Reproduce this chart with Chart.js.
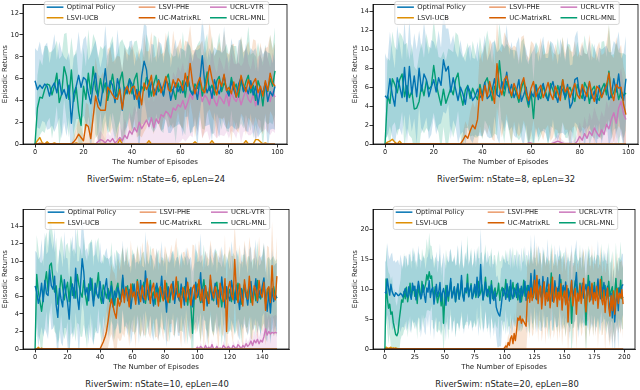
<!DOCTYPE html>
<html>
<head>
<meta charset="utf-8">
<script src="https://cdn.jsdelivr.net/npm/chart.js@4.4.0/dist/chart.umd.min.js"></script>
<style>
  body { margin: 0; width: 640px; height: 390px; background: #fff; position: relative; overflow: hidden; font-family: 'DejaVu Sans', sans-serif; }
  canvas { position: absolute; }
  .cap { position: absolute; font-size: 8.4px; line-height: 10px; color: #222; white-space: nowrap; transform: translateX(-50%); }
</style>
</head>
<body>
<div class="cap" style="left:156px;top:174px">RiverSwim: nState=6, epLen=24</div>
<div class="cap" style="left:506px;top:174px">RiverSwim: nState=8, epLen=32</div>
<div class="cap" style="left:157px;top:379px">RiverSwim: nState=10, epLen=40</div>
<div class="cap" style="left:507px;top:379px">RiverSwim: nState=20, epLen=80</div>
<script>
// series names / colours (legend order)
const names = ['Optimal Policy', 'LSVI-UCB', 'LSVI-PHE', 'UC-MatrixRL', 'UCRL-VTR', 'UCRL-MNL'];
const colors = ['#0173b2', '#de8f05', '#eb9a6a', '#d55e00', '#cc78bc', '#029e73'];
const bands = ['rgba(1,115,178,0.2)', 'rgba(222,143,5,0.2)', 'rgba(235,154,106,0.2)', 'rgba(222,120,40,0.2)', 'rgba(204,120,188,0.2)', 'rgba(2,158,115,0.2)'];

// tick labels
const xTicksA = [0, 20, 40, 60, 80, 100];
const xTicksC = [0, 20, 40, 60, 80, 100, 120, 140];
const xTicksD = [0, 25, 50, 75, 100, 125, 150, 175, 200];
const yTicksA = [0, 2, 4, 6, 8, 10, 12];
const yTicksB = [0, 2, 4, 6, 8, 10, 12, 14];
const yTicksD = [0, 5, 10, 15, 20];

// ---------- nState=6 (100 episodes) ----------
const p1Opt = [
5.8,5.0,5.4,5.1,5.5,5.3,4.4,5.2,5.6,4.7,
5.9,4.5,5.0,4.2,5.4,1.9,4.6,5.3,6.3,5.2,
6.1,5.9,4.7,3.7,5.4,6.5,4.2,3.5,5.1,6.9,
4.6,5.8,5.4,3.8,6.0,5.1,3.1,5.2,4.6,5.9,
5.5,4.1,5.0,3.3,6.2,7.6,6.8,4.3,5.7,5.1,
4.5,5.9,5.2,4.4,5.8,5.5,4.0,5.0,5.6,4.8,
5.3,4.7,5.5,6.0,4.9,4.5,5.2,4.1,5.8,8.1,
5.6,4.7,5.3,4.2,5.9,5.1,4.6,5.4,6.3,4.9,
4.4,5.7,5.0,4.3,5.5,6.1,4.8,5.2,4.6,5.8,
4.5,5.3,3.6,5.0,4.7,5.6,3.9,4.8,4.4,5.3];
const p1Ucb = [
0,0.3,0.6,0.1,0,0.2,0,0,0.1,0,
0,0,0,0,0,0,0,0.1,0,0,
0,0,0,0,0,0,0,0,0,0,
0,0,0,0,0,0.4,0,0,0,0,
0,0,0,0,0,0,0,0.3,0,0,
0,0,0,0,0,0,0,0,0,0,
0,0,0,0,0,0,0.2,0,0,0,
0,0,0,0.3,0,0,0,0,0,0,
0,0,0,0,0,0,0,0.3,0,0,
0,0.4,0.4,0.2,0,0.1,0,0,0,0];
const p1Phe = [
0,0,0.1,0,0,0,0,0,0,0,
0,0,0,0,0,0,0,0,0,0,
0,0,0,0,0,0,0,0,0,0,
0,0,0,0,0,0,0,0,0,0,
0,0,0,0,0,0,0,0,0,0,
0,0,0,0,0,0,0,0,0,0,
0,0,0,0,0,0,0,0,0,0,
0,0,0,0,0,0,0,0,0,0,
0,0,0,0,0,0,0,0,0,0,
0,0,0,0,0,0,0,0,0,0];
const p1Mrl = [
0,0,0,0,0,0,0,0,0,0,
0,0,0,0,0,0,0.2,0.5,0.9,0.6,
0.3,1.8,1.6,0.5,2.5,4.4,3.4,3.1,3.1,3.1,
5.2,4.9,4.5,4.2,4.1,5.0,3.2,4.8,5.3,4.6,
5.2,5.3,4.1,4.8,3.6,5.6,5.0,5.5,6.3,4.4,
5.1,5.8,4.7,5.4,6.2,5.0,4.8,5.9,5.2,6.0,
5.7,4.9,6.5,5.3,7.4,5.6,4.6,5.5,6.1,5.0,
4.7,5.8,7.2,6.0,5.1,4.5,5.9,5.3,6.4,4.9,
5.2,4.6,5.7,4.3,5.0,6.3,5.4,4.8,5.9,5.1,
5.6,6.0,4.7,5.3,4.4,5.8,4.9,6.5,5.6,5.3];
const p1Vtr = [
0,0,0,0,0,0,0,0,0,0,
0,0,0,0,0,0,0,0,0,0,
0,0,0,0,0,0,0.2,0.4,0.3,0.1,
0.4,0.2,0.5,0.1,0.3,0.6,0.3,0.8,0.5,1.2,
0.9,1.5,1.1,2.0,1.4,1.8,2.2,1.6,2.4,1.5,
2.3,1.9,2.7,2.5,3.0,2.8,2.4,3.3,3.1,3.6,
3.4,4.0,3.2,3.8,4.6,4.1,5.5,4.3,4.8,3.9,
4.5,4.2,3.6,4.9,4.0,3.5,4.4,4.1,3.7,4.6,
3.5,4.8,4.2,3.9,4.5,3.6,4.3,5.0,4.1,3.8,
4.6,3.5,4.4,4.9,4.1,5.2,4.5,3.9,4.8,4.3];
const p1Mnl = [
0,3.3,4.3,4.2,5.0,5.5,5.4,4.5,5.3,6.5,
3.8,4.6,7.1,6.2,4.1,6.8,3.9,5.2,3.0,1.7,
5.3,4.1,6.5,4.6,7.1,5.0,4.4,6.0,4.7,5.6,
4.0,5.2,6.4,4.8,4.3,5.8,6.6,4.5,5.1,6.0,
4.6,5.9,6.5,4.2,5.3,4.9,6.1,5.7,4.4,5.5,
6.3,4.8,5.2,4.5,5.9,6.4,4.9,5.0,4.1,5.6,
4.7,5.8,4.3,6.2,5.0,4.6,5.5,5.1,6.0,4.4,
5.3,6.6,4.9,5.4,4.5,5.8,6.2,4.8,5.6,5.2,
4.6,6.1,5.0,5.5,4.3,5.9,4.9,5.7,6.3,4.7,
5.4,4.0,5.8,5.1,3.5,5.6,4.8,6.0,5.3,6.7];
const p1OptSd = [
3,3.5,4,3,3.5,4,3,3.5,4.5,3,
3.5,4,3,3.5,3,4,3.5,3,4,3,
3.5,4,3,4.5,3.5,3,4,3.5,3,4,
3.5,3,4,3.5,4.5,3,3.5,4,3,3.5,
4,3,3.5,4.5,3,3.5,4,3,3.5,4,
3,3.5,4,3,3.5,4.5,3,3.5,4,3,
3.5,4,3,3.5,4,3,3.5,4.5,3,3.5,
4,3,3.5,4,3,3.5,4,3,4.5,3.5,
3,4,3.5,3,4,3.5,3,4,3.5,3,
4,3.5,3,4,3.5,3,4.5,3.5,3,4];
const p1MrlSd = [
0,0,0,0,0,0,0,0,0,0,
0,0,0,0,0,0,0.5,1,1.5,1,
0.5,2,2,1,3,3.5,3,3,3.5,3,
3.5,4,3,3.5,4,3,3.5,4,3,3.5,
4,3,3.5,4,3,4.5,3.5,3,4,3.5,
3,4,3.5,3,4,3.5,3,4.5,3.5,3,
4,3.5,3,4,3.5,3,4,3.5,3,4.5,
3.5,3,4,3.5,3,4,3.5,3,4,3.5,
3,4.5,3.5,3,4,3.5,3,4,3.5,3,
4,3.5,3,4,3.5,3,4,3.5,3,4];
const p1VtrSd = [
0,0,0,0,0,0,0,0,0,0,
0,0,0,0,0,0,0,0,0,0,
0,0,0,0,0,0,0.5,0.8,0.6,0.3,
0.8,0.5,1,0.4,0.7,1.2,0.8,1.5,1.2,1.8,
1.5,2,1.8,2.5,2,2.3,2.8,2.2,3,2.3,
2.8,2.5,3,2.8,3.2,3,2.7,3.3,3,3.5,
3.2,3.5,3,3.3,3.8,3.5,3.2,3.6,3,3.4,
3.5,3,3.3,3.8,3.2,3,3.6,3.3,3,3.5,
3,3.6,3.2,3.4,3,3.5,3.2,3.8,3.3,3,
3.5,3.2,3.6,3.3,3,3.8,3.4,3.1,3.6,3.3];
const p1MnlSd = [
0,3,3.5,3,4,3.5,3,4,3.5,3,
4,3.5,3,4,3.5,3,4,3.5,3,4,
3.5,3,4,3.5,3,4.5,3.5,3,4,3.5,
3,4,3.5,3,4,3.5,3,4.5,3.5,3,
4,3.5,3,4,3.5,3,4,3.5,3,4.5,
3.5,3,4,3.5,3,4,3.5,3,4,3.5,
3,4.5,3.5,3,4,3.5,3,4,3.5,3,
4,3.5,3,4.5,3.5,3,4,3.5,3,4,
3.5,3,4,3.5,3,4,3.5,3,4.5,3.5,
3,4,3.5,3,4,3.5,3,4,3.5,4];

// ---------- nState=8 (100 episodes) ----------
const p2Opt = [
5.1,4.8,6.9,5.2,4.0,7.0,6.1,4.9,8.1,4.5,
8.2,5.3,7.2,5.0,8.0,5.6,7.4,6.8,5.0,6.0,
6.8,5.5,7.0,6.2,8.9,7.7,8.2,5.5,7.0,5.8,
4.6,6.0,5.3,4.2,6.1,5.5,4.6,5.0,5.8,4.9,
5.3,6.5,4.8,5.1,5.7,6.9,5.2,5.0,6.6,5.8,
7.6,5.4,6.3,4.9,5.6,6.8,4.5,5.2,6.0,4.2,
5.5,5.0,6.2,4.7,5.8,6.4,5.1,4.6,5.9,6.6,
5.3,4.4,6.1,5.7,4.9,6.3,3.8,4.4,6.8,7.0,
5.1,6.0,4.6,5.5,6.5,4.8,5.6,4.3,6.2,5.0,
5.7,6.4,4.7,5.2,6.9,5.5,7.4,5.0,4.6,6.9];
const p2Ucb = [
0,0.2,0.3,0.5,0.2,0,0.3,0,0,0,
0,0,0,0,0,0,0,0,0,0,
0,0,0,0,0,0,0,0,0,0,
0,0,0,0,0,0,0,0,0,0,
0,0,0,0,0,0,0,0,0,0,
0,0,0,0,0,0,0,0,0,0,
0,0,0,0,0,0,0,0,0,0,
0,0,0,0,0,0,0,0,0,0,
0,0,0,0,0,0,0,0,0,0,
0,0,0,0,0,0,0,0,0,0];
const p2Phe = [
0,0,0,0,0,0,0,0,0,0,
0,0,0,0,0,0,0,0,0,0,
0,0,0,0,0,0,0,0,0,0,
0,0,0,0,0,0,0,0,0,0,
0,0,0,0,0,0,0,0,0,0,
0,0,0,0,0,0,0,0,0,0,
0,0,0,0,0,0,0,0,0,0,
0,0,0,0,0,0,0,0,0,0,
0,0,0,0,0,0,0,0,0,0,
0,0,0,0,0,0,0,0,0,0];
const p2Mrl = [
0,0,0,0,0,0,0,0,0,0,
0,0,0,0,0,0,0,0,0,0,
0,0,0,0,0,0,0,0,0,0,
0,0,0.4,0.9,0.6,1.4,2.0,1.6,2.6,5.9,
4.6,6.2,5.0,6.6,5.5,4.3,8.5,6.0,5.2,6.8,
7.2,6.0,5.1,6.4,5.7,4.8,6.3,7.0,5.5,4.6,
5.9,6.6,5.0,5.8,6.2,4.9,5.6,6.5,5.3,4.7,
6.1,5.4,4.6,6.8,5.5,6.0,4.9,5.7,6.4,5.2,
4.8,6.3,5.6,5.0,6.6,5.3,4.5,6.1,5.8,4.9,
5.6,6.2,7.5,5.4,4.6,6.3,5.9,6.0,4.2,3.1];
const p2Vtr = [
0,0,0,0,0,0,0,0,0,0,
0,0,0,0,0,0,0,0,0,0,
0,0,0,0,0,0,0,0,0,0,
0,0,0,0,0,0,0,0,0,0,
0,0,0,0,0,0,0,0,0,0,
0,0,0,0,0,0,0,0,0,0.1,
0.1,0,0,0,0,0,0,0,0,0.1,
0.2,0.3,0.2,0.1,0,0,0,0,0,0.3,
0.8,0.4,1.1,0.6,1.3,0.9,1.7,1.2,0.8,1.5,
1.0,2.1,1.6,2.6,3.3,2.2,3.8,4.5,3.2,2.6];
const p2Mnl = [
0,5.1,4.3,6.9,6.3,5.4,6.8,7.4,5.0,6.2,
4.9,5.6,3.7,3.8,4.5,6.2,5.1,6.7,5.8,6.1,
8.3,6.4,5.2,4.1,5.8,4.3,5.1,5.9,5.2,6.8,
7.5,5.3,4.1,5.7,6.2,4.8,5.9,5.2,4.7,6.3,
5.0,6.5,7.0,5.8,4.6,6.1,5.4,8.8,6.2,5.1,
6.6,5.7,4.9,6.0,5.3,4.4,5.8,6.7,5.0,3.9,
5.6,2.7,6.3,5.2,4.8,6.1,5.5,4.6,6.4,5.7,
4.9,6.2,5.1,6.8,4.7,5.6,6.0,5.2,4.5,6.3,
5.4,4.8,6.5,5.9,4.3,5.7,6.1,5.0,4.6,5.8,
6.4,5.2,7.7,4.9,5.5,6.2,4.7,5.6,5.1,5.4];
const p2OptSd = [
4.5,4,5,4.5,4,5.5,4.5,4,5,4.5,
5,4,4.5,5,4,4.5,5.5,4,4.5,5,
4,4.5,5,4,5.5,4.5,4,5,4.5,4,
4.5,5,4,4.5,4,5,4.5,4,5,4,
4.5,5,4,4.5,5,4,4.5,5,4,4.5,
5,4,4.5,4,5,4.5,4,5.5,4,4.5,
4,5,4.5,4,4.5,5,4,4.5,5,4,
4.5,4,5,4.5,4,5,4.5,4,4.5,5,
4,4.5,5,4,4.5,4,5,4.5,4,5,
4.5,4,5,4.5,4,5,4.5,4,5,4.5];
const p2MrlSd = [
0,0,0,0,0,0,0,0,0,0,
0,0,0,0,0,0,0,0,0,0,
0,0,0,0,0,0,0,0,0,0,
0,0,0.8,1.5,1.2,2,2.5,2.2,3,4,
4,4.5,4,4.5,5,4,4.5,4,4.5,5,
4,4.5,5,4,4.5,4,5,4.5,4,4.5,
5,4,4.5,4,5,4.5,4,4.5,5,4,
4.5,4,5,4.5,4,4.5,5,4,4.5,4,
5,4.5,4,4.5,5,4,4.5,4,5,4.5,
4,4.5,5,4,4.5,5,4,4.5,4,4];
const p2VtrSd = [
0,0,0,0,0,0,0,0,0,0,
0,0,0,0,0,0,0,0,0,0,
0,0,0,0,0,0,0,0,0,0,
0,0,0,0,0,0,0,0,0,0,
0,0,0,0,0,0,0,0,0,0,
0,0,0,0,0,0,0,0,0,0,
0,0,0,0,0,0,0,0,0,0.3,
0.5,0.7,0.5,0.3,0.2,0.2,0.2,0.3,0.5,0.8,
1.5,1,1.8,1.2,2,1.6,2.2,1.8,1.5,2,
1.8,2.5,2.2,2.8,3,2.6,3.2,3.5,3,2.8];
const p2MnlSd = [
0,4,4.5,5,4,4.5,5,4,5.5,4.5,
4,5,4.5,4,5,4.5,4,5,4.5,4,
5,4.5,4,5,4,4.5,5,4,4.5,5,
4,4.5,5,4,4.5,4,5,4.5,4,5,
4.5,4,5,4.5,4,5,4.5,4,4.5,5,
4,4.5,5,4,4.5,4,5,4.5,4,4.5,
5,4,4.5,5,4,4.5,4,5,4.5,4,
4.5,5,4,4.5,4,5,4.5,4,5,4.5,
4,4.5,5,4,4.5,5,4,4.5,4,5,
4.5,4,5,4.5,4,4.5,5,4,4.5,4];

// ---------- nState=10 (150 episodes) ----------
const p3Opt = [
7.2,6.5,5.2,6.0,7.5,5.4,7.8,6.3,6.1,9.0,
7.2,6.8,8.3,5.0,3.6,6.9,5.7,4.8,7.9,6.4,
5.3,3.4,6.6,7.4,5.8,9.2,6.0,4.5,7.3,10.3,
8.8,6.2,7.0,5.5,8.1,6.7,4.9,7.5,6.3,5.8,
7.7,6.1,5.2,6.9,8.0,5.7,6.4,7.2,4.8,6.6,
5.9,7.0,6.3,5.4,8.4,6.0,7.1,5.5,6.8,4.6,
6.2,7.4,5.8,6.5,5.1,7.8,6.0,5.3,8.9,6.7,
5.6,7.3,6.1,4.9,6.8,7.5,5.4,6.2,8.3,5.8,
6.6,4.2,7.1,5.9,6.4,7.7,5.2,6.9,6.0,5.5,
7.4,6.3,5.0,8.1,6.6,5.7,7.0,4.8,6.2,7.6,
5.9,6.5,8.7,5.3,6.8,7.2,4.9,6.1,7.9,5.6,
6.4,7.5,5.1,6.7,5.8,8.2,6.3,4.7,7.1,6.0,
5.5,7.8,6.6,5.2,7.3,6.1,4.5,6.9,5.7,7.4,
6.2,5.0,6.8,7.7,5.6,6.4,8.0,5.3,6.7,5.9,
7.2,8.1,5.7,4.3,6.5,4.1,6.9,5.4,6.2,5.8];
const p3Ucb = [
0,0,0.2,0,0.1,0,0,0,0,0,
0,0,0,0,0,0,0,0,0,0,
0,0,0,0,0,0,0,0,0,0,
0,0,0,0,0,0,0,0,0,0,
0,0,0,0,0,0,0,0,0,0,
0,0,0,0,0,0,0,0,0,0,
0,0,0,0,0,0,0,0,0,0,
0,0,0,0,0,0,0,0,0,0,
0,0,0,0,0,0,0,0,0,0,
0,0,0,0,0,0,0,0,0,0,
0,0,0,0,0,0,0,0,0,0,
0,0,0,0,0,0,0,0,0,0,
0,0,0,0,0,0,0,0,0,0,
0,0,0,0,0,0,0,0,0,0,
0,0,0,0,0,0,0,0,0,0];
const p3Phe = [
0,0,0,0,0,0,0,0,0,0,
0,0,0,0,0,0,0,0,0,0,
0,0,0,0,0,0,0,0,0,0,
0,0,0,0,0,0,0,0,0,0,
0,0,0,0,0,0,0,0,0,0,
0,0,0,0,0,0,0,0,0,0,
0,0,0,0,0,0,0,0,0,0,
0,0,0,0,0,0,0,0,0,0,
0,0,0,0,0,0,0,0,0,0,
0,0,0,0,0,0,0,0,0,0,
0,0,0,0,0,0,0,0,0,0,
0,0,0,0,0,0,0,0,0,0,
0,0,0,0,0,0,0,0,0,0,
0,0,0,0,0,0,0,0,0,0,
0,0,0,0,0,0,0,0,0,0];
const p3Mrl = [
0,0,0,0,0,0,0,0,0,0,
0,0,0,0,0,0,0,0,0,0,
0,0,0,0,0,0,0,0,0,0,
0,0,0,0,0,0,0,0,0,0,
0,0.4,0.8,1.3,2.0,3.2,4.6,5.7,4.9,4.1,
3.5,5.8,4.9,5.5,6.8,5.3,7.0,6.2,4.8,7.4,
5.9,6.5,5.1,7.7,6.3,5.4,7.2,6.0,5.6,8.0,
6.7,5.2,6.9,7.5,5.8,6.4,4.9,7.1,6.2,5.5,
7.8,6.0,5.3,6.8,7.4,5.6,6.5,8.2,5.9,6.3,
4.7,7.0,6.6,5.4,7.6,6.1,5.0,6.9,7.3,5.7,
6.4,7.9,5.5,6.8,4.4,7.2,6.0,5.2,8.4,6.6,
5.8,7.1,6.3,4.8,7.5,6.2,5.4,8.0,2.0,6.9,
7.7,6.1,5.6,10.2,6.8,5.3,7.4,6.0,4.9,7.9,
6.5,5.7,8.3,6.2,5.0,7.2,6.7,5.5,7.8,6.3,
5.9,7.6,4.4,6.8,7.1,5.3,9.5,6.0,5.6,8.3];
const p3Vtr = [
0,0,0,0,0,0,0,0,0,0,
0,0,0,0,0,0,0,0,0,0,
0,0,0,0,0,0,0,0,0,0,
0,0,0,0,0,0,0,0,0,0,
0,0,0,0,0,0,0,0,0,0,
0,0,0,0,0,0,0,0,0,0,
0,0,0,0,0,0,0,0,0,0,
0,0,0,0,0,0,0,0,0,0,
0,0,0,0,0,0,0,0,0,0,
0,0,0,0,0,0,0,0,0,0,
0.2,0,0.3,0.1,0,0.4,0,0.2,0,0.5,
0,0,0.3,0,0.1,0,0.4,0.2,0,0.3,
0.1,0,0.4,0.2,0,0.5,0.3,0,0.4,0.2,
0.6,0.3,0.5,0.9,0.4,1.0,0.7,1.1,0.6,1.0,
0.8,1.4,2.3,1.6,2.0,1.7,1.9,1.8,1.9,1.8];
const p3Mnl = [
0,8.5,6.5,5.4,4.3,5.8,7.5,8.8,6.6,9.5,
9.8,8.0,6.5,7.2,5.1,6.3,8.4,7.0,5.6,6.8,
7.6,5.4,8.2,6.1,7.0,5.8,8.5,7.3,6.4,5.9,
7.8,6.2,5.0,7.4,6.7,8.0,5.5,6.3,7.1,8.7,
6.0,5.2,7.3,6.6,5.8,6.9,5.4,7.7,6.2,5.0,
6.8,7.5,5.7,6.3,8.1,5.9,6.6,7.2,5.3,6.0,
7.4,6.1,5.5,7.9,6.4,5.6,6.9,7.6,5.2,6.7,
6.2,7.8,5.9,6.5,5.1,7.2,6.8,5.4,7.0,6.3,
5.7,7.5,6.0,5.3,6.9,7.3,5.8,6.4,7.7,5.5,
6.6,5.9,7.1,6.3,5.0,6.8,4.9,1.8,5.6,6.9,
7.4,6.1,5.3,6.7,7.9,5.8,6.5,5.2,7.2,6.0,
5.5,6.9,7.6,5.9,6.3,4.8,6.6,7.4,5.7,6.2,
6.8,5.4,7.0,6.1,5.6,7.5,6.4,5.1,6.7,7.3,
5.9,6.5,7.1,5.3,6.2,6.9,5.5,7.8,6.0,5.7,
6.6,7.4,5.2,6.3,7.0,5.6,6.4,7.1,6.0,5.8];
const p3OptSd = [
4,4.5,5,4.5,5,4,5.5,4.5,5,4.5,
5,4.5,5.5,4,5,4.5,5,4.5,5.5,4,
5,4.5,5,5.5,4.5,5,4,5.5,4.5,5,
4.5,5,4.5,5,4,5.5,4.5,5,4.5,4,
4.5,4,4.5,4,3.5,4.5,4,3.5,4,4.5,
3.5,4,4.5,3.5,4,3.5,4.5,4,3.5,4,
4.5,3.5,4,3.5,4.5,4,3.5,4,4.5,3.5,
4,3.5,4.5,4,3.5,4,4.5,3.5,4,3.5,
4.5,4,3.5,4,4.5,3.5,4,3.5,4.5,4,
3.5,4,4.5,3.5,4,4.5,3.5,4,3.5,4.5,
4,3.5,4.5,4,3.5,4,4.5,3.5,4,3.5,
4.5,4,3.5,4,4.5,3.5,4,4.5,3.5,4,
3.5,4.5,4,3.5,4,4.5,3.5,4,3.5,4.5,
4,3.5,4.5,4,3.5,4,4.5,3.5,4,4.5,
3.5,4,4.5,3.5,4,3.5,4.5,4,3.5,4];
const p3MrlSd = [
0,0,0,0,0,0,0,0,0,0,
0,0,0,0,0,0,0,0,0,0,
0,0,0,0,0,0,0,0,0,0,
0,0,0,0,0,0,0,0,0,0,
0,0.8,1.5,2,2.5,3,3.5,4,4,4.5,
4,4.5,4,4.5,5,4,4.5,4,4.5,5,
4,4.5,5,4,4.5,4,5,4.5,4,4.5,
5,4,4.5,4,4.5,5,4,4.5,4,4.5,
4,5,4.5,4,4.5,4,5,4.5,4,4.5,
4.5,4,4.5,5,4,4.5,4,5,4.5,4,
4,4.5,5,4,4.5,4,4.5,5,4,4.5,
4.5,4,4.5,5,4,4.5,4,5,4.5,4,
4,4.5,5,4,4.5,4,4.5,4,5,4.5,
4.5,4,4.5,5,4,4.5,4,4.5,5,4,
4,4.5,4,5,4.5,4,5,4.5,4,4.5];
const p3VtrSd = [
0,0,0,0,0,0,0,0,0,0,
0,0,0,0,0,0,0,0,0,0,
0,0,0,0,0,0,0,0,0,0,
0,0,0,0,0,0,0,0,0,0,
0,0,0,0,0,0,0,0,0,0,
0,0,0,0,0,0,0,0,0,0,
0,0,0,0,0,0,0,0,0,0,
0,0,0,0,0,0,0,0,0,0,
0,0,0,0,0,0,0,0,0,0,
0,0,0,0,0,0,0,0,0,0,
0.3,0,0.4,0.2,0,0.5,0,0.3,0,0.6,
0,0,0.4,0,0.2,0,0.5,0.3,0,0.4,
0.2,0,0.5,0.3,0,0.6,0.4,0,0.5,0.3,
0.7,0.4,0.6,1,0.5,1.2,0.8,1.3,0.7,1.2,
1,1.6,2.2,1.8,2,1.8,2,1.9,2,1.9];
const p3MnlSd = [
0,4.5,5,4.5,5.5,4.5,5,4.5,5,5.5,
4.5,5,4.5,5.5,4.5,5,4.5,5,4.5,5,
4.5,5.5,4.5,5,4.5,5,5.5,4.5,5,4.5,
5,4.5,5,4.5,5.5,4.5,5,4.5,5,4,
4,4.5,3.5,4,4.5,3.5,4,4.5,3.5,4,
4.5,3.5,4,4.5,3.5,4,3.5,4.5,4,3.5,
4,4.5,3.5,4,3.5,4.5,4,3.5,4,4.5,
3.5,4,4.5,3.5,4,3.5,4.5,4,3.5,4,
4,3.5,4,4.5,3.5,4,4.5,3.5,4,3.5,
4.5,4,3.5,4,4.5,3.5,4,4,3.5,4.5,
3.5,4,4.5,3.5,4,3.5,4.5,4,3.5,4,
4,4.5,3.5,4,3.5,4.5,4,3.5,4,4.5,
4.5,3.5,4,4.5,3.5,4,3.5,4.5,4,3.5,
3.5,4,3.5,4.5,4,3.5,4,4.5,3.5,4,
4,4.5,3.5,4,3.5,4.5,4,3.5,4,4.5];

// ---------- nState=20 (200 episodes) ----------
const p4Opt = [
9.5,9.3,11.7,10.2,9.0,10.8,9.6,9.1,8.8,9.4,9.2,8.9,9.0,9.3,9.1,8.7,9.5,10.1,9.0,8.6,10.4,9.2,8.3,11.0,9.8,
10.5,8.2,9.7,11.3,10.0,8.4,9.1,10.7,8.9,7.8,10.2,9.5,11.4,8.6,9.9,10.3,7.5,9.2,10.8,8.7,9.6,11.1,8.0,9.4,10.1,
9.0,7.3,10.6,8.8,9.7,11.8,8.5,9.3,10.4,7.9,9.8,10.9,8.3,9.5,12.3,9.1,8.0,10.2,9.6,11.0,8.7,9.9,10.6,8.4,9.3,
10.8,9.0,12.0,8.6,9.7,14.1,10.3,8.2,9.5,11.2,8.9,10.0,9.4,7.6,10.7,9.2,8.1,9.6,7.0,6.3,5.8,5.5,6.9,8.7,10.1,
9.6,8.3,10.9,9.2,8.0,11.5,9.0,8.4,10.2,9.7,8.6,11.0,9.3,7.8,10.5,8.9,9.8,11.3,8.1,9.4,10.6,8.7,12.6,9.1,10.0,
13.2,9.5,8.2,10.8,11.6,9.0,8.5,12.1,9.7,8.8,10.3,11.9,8.4,9.6,10.9,8.0,9.2,11.4,8.7,10.1,9.5,12.4,8.9,9.8,10.6,
8.6,11.2,9.3,10.0,8.1,9.7,11.5,8.8,9.4,10.7,12.8,9.1,8.3,10.4,9.6,11.0,8.5,9.9,10.8,8.9,9.5,11.3,8.2,10.2,9.0,
10.6,8.7,9.8,11.7,9.2,8.4,10.3,9.6,11.1,8.9,9.7,10.5,8.0,6.1,9.3,5.2,8.6,4.5,7.8,9.4,6.4,10.2,8.8,10.5,10.8];
const p4Ucb = [
0.2,0.3,0.2,0.1,0.2,0.3,0.1,0.2,0.1,0.2,0.1,0,0,0,0,0,0,0,0,0,0,0,0,0,0,
0,0,0,0,0,0,0,0,0,0,0,0,0,0,0,0,0,0,0,0,0,0,0,0,0,
0,0,0,0,0,0,0,0,0,0,0,0,0,0,0,0,0,0,0,0,0,0,0,0,0,
0,0,0,0,0,0,0,0,0,0,0,0,0,0,0,0,0,0,0,0,0,0,0,0,0,
0,0,0,0,0,0,0,0,0,0,0,0,0,0,0,0,0,0,0,0,0,0,0,0,0,
0,0,0,0,0,0,0,0,0,0,0,0,0,0,0,0,0,0,0,0,0,0,0,0,0,
0,0,0,0,0,0,0,0,0,0,0,0,0,0,0,0,0,0,0,0,0,0,0,0,0,
0,0,0,0,0,0,0,0,0,0,0,0,0,0,0,0,0,0,0,0,0,0,0,0,0];
const p4Phe = [
0,0,0,0,0,0,0,0,0,0,0,0,0,0,0,0,0,0,0,0,0,0,0,0,0,
0,0,0,0,0,0,0,0,0,0,0,0,0,0,0,0,0,0,0,0,0,0,0,0,0,
0,0,0,0,0,0,0,0,0,0,0,0,0,0,0,0,0,0,0,0,0,0,0,0,0,
0,0,0,0,0,0,0,0,0,0,0,0,0,0,0,0,0,0,0,0,0,0,0,0,0,
0,0,0,0,0,0,0,0,0,0,0,0,0,0,0,0,0,0,0,0,0,0,0,0,0,
0,0,0,0,0,0,0,0,0,0,0,0,0,0,0,0,0,0,0,0,0,0,0,0,0,
0,0,0,0,0,0,0,0,0,0,0,0,0,0,0,0,0,0,0,0,0,0,0,0,0,
0,0,0,0,0,0,0,0,0,0,0,0,0,0,0,0,0,0,0,0,0,0,0,0,0];
const p4Mrl = [
0,0,0,0,0,0,0,0,0,0,0,0,0,0,0,0,0,0,0,0,0,0,0,0,0,
0,0,0,0,0,0,0,0,0,0,0,0,0,0,0,0,0,0,0,0,0,0,0,0,0,
0,0,0,0,0,0,0,0,0,0,0,0,0,0,0,0,0,0,0,0,0,0,0,0,0,
0,0,0,0,0,0,0,0,0,0,0,0,0,0,0,0,0,0,0,0,0,0,0,0,0,
0.2,0.5,0.3,1.1,0.6,1.8,2.2,0.9,2.6,1.4,3.0,5.2,4.8,5.5,4.3,5.0,4.6,4.2,3.8,8.5,9.6,7.8,10.2,8.1,9.0,
11.5,8.4,12.3,7.6,9.8,10.5,6.7,8.9,11.2,7.3,9.4,8.0,10.8,6.9,9.1,12.0,7.8,8.6,10.3,7.1,9.5,8.2,10.9,6.5,8.8,
9.7,7.4,10.6,4.5,8.3,9.0,11.4,7.2,8.7,10.1,5.8,9.3,8.0,10.7,7.6,9.2,11.8,8.4,6.2,9.6,10.4,7.9,8.9,11.0,7.5,
9.4,8.1,10.5,6.8,9.0,11.6,8.3,7.4,9.8,6.1,8.6,10.2,7.0,5.5,8.9,6.4,9.7,5.8,8.2,10.1,7.6,9.3,8.5,9.9,7.5];
const p4Vtr = [
0,0,0,0,0,0,0,0,0,0,0,0,0,0,0,0,0,0,0,0,0,0,0,0,0,
0,0,0,0,0,0,0,0,0,0,0,0,0,0,0,0,0,0,0,0,0,0,0,0,0,
0,0,0,0,0,0,0,0,0,0,0,0,0,0,0,0,0,0,0,0,0,0,0,0,0,
0,0,0,0,0,0,0,0,0,0,0,0,0,0,0,0,0,0,0,0,0,0,0,0,0,
0,0,0,0,0,0,0,0,0,0,0,0,0,0,0,0,0,0,0,0,0,0,0,0,0,
0,0,0,0,0,0,0,0,0,0,0,0,0,0,0,0,0,0,0,0,0,0,0,0,0,
0,0,0,0,0,0,0,0,0,0,0,0,0,0,0,0,0,0,0,0,0,0,0,0,0,
0,0,0,0,0,0,0,0,0,0,0,0,0,0,0,0,0,0,0,0,0,0,0,0,0];
const p4Mnl = [
0,11.7,8.5,6.8,7.5,5.8,6.2,4.4,3.5,2.4,2.2,2.8,4.9,6.5,8.2,7.8,9.6,8.4,10.3,7.9,9.1,11.0,8.6,9.7,10.5,
8.8,9.9,7.6,10.7,9.2,8.4,11.3,9.5,10.1,10.8,12.4,11.5,12.9,11.8,12.2,9.6,8.7,10.4,9.0,7.7,8.8,9.5,7.2,9.3,4.3,
8.2,10.6,9.4,8.0,9.8,11.2,8.7,9.5,10.3,7.9,9.1,10.8,8.4,9.6,11.5,9.0,8.3,10.1,9.4,12.5,8.8,9.7,10.9,8.5,9.2,
10.4,8.6,9.9,11.3,8.9,9.5,10.7,8.2,9.8,12.0,9.3,8.7,10.5,9.1,11.4,8.4,9.6,10.2,8.8,9.4,11.0,8.1,9.7,10.3,8.9,
9.5,11.6,8.6,9.2,10.4,8.3,9.9,11.1,8.7,9.6,10.8,8.2,9.4,10.1,7.9,9.3,11.5,8.8,9.7,10.6,8.5,9.1,12.2,9.8,8.6,
10.3,9.2,11.7,8.9,9.6,10.5,8.4,9.8,11.2,8.7,9.5,10.0,8.1,9.4,12.7,9.0,8.6,10.9,9.7,8.3,10.4,9.1,11.6,8.8,9.9,
10.2,7.6,9.3,10.1,8.7,9.8,4.3,8.5,9.6,11.4,10.7,8.9,9.2,11.0,8.4,9.7,10.5,8.8,4.0,9.4,12.3,8.6,9.9,10.8,8.2,
11.1,8.7,9.6,10.3,8.9,9.4,12.1,8.5,9.8,10.6,8.3,9.2,11.3,8.8,9.7,10.4,7.5,9.0,11.8,8.6,10.2,9.3,11.5,8.4,8.7];
const p4OptSd = [
5,5.5,6,5.5,6,5,6.5,5.5,6,5,5.5,6,5,6.5,5.5,5,6,5.5,6,5,5.5,6.5,5,6,5.5,
6,5,5.5,6,5,6.5,5.5,5,6,5.5,5,6,5.5,6.5,5,5.5,6,5,5.5,6,5,6.5,5.5,5,6,
5.5,6,5,5.5,6.5,5,6,5.5,5,6,5.5,6.5,5,5.5,6,5,5.5,6,5,6.5,5.5,5,6,5.5,5,
6,5.5,5,6.5,5.5,6,5,5.5,6,5,5.5,6.5,5,6,5.5,5,6,5.5,5,6,5.5,5,6.5,5,5.5,
5,6,5.5,5,6,5.5,6.5,5,5.5,6,5,5.5,6,5,6.5,5.5,5,6,5.5,5,6,5.5,6.5,5,5.5,
6,5,5.5,6.5,5,6,5.5,5,6,5.5,5,6.5,5.5,5,6,5,5.5,6,5,6.5,5.5,5,6,5.5,5,
5.5,6,5,5.5,6.5,5,6,5.5,5,6,5.5,5,6.5,5,5.5,6,5,5.5,6,5,6.5,5.5,5,6,5.5,
5,6,5.5,6.5,5,5.5,6,5,5.5,6,5,6.5,5.5,5,6,5.5,5,6,5,5.5,6.5,5,6,5.5,5];
const p4MrlSd = [
0,0,0,0,0,0,0,0,0,0,0,0,0,0,0,0,0,0,0,0,0,0,0,0,0,
0,0,0,0,0,0,0,0,0,0,0,0,0,0,0,0,0,0,0,0,0,0,0,0,0,
0,0,0,0,0,0,0,0,0,0,0,0,0,0,0,0,0,0,0,0,0,0,0,0,0,
0,0,0,0,0,0,0,0,0,0,0,0,0,0,0,0,0,0,0,0,0,0,0,0,0,
0.3,0.8,0.5,1.5,1,2.5,3,1.5,3.5,2,4,5,5,5.5,5,5,5.5,5,4.5,6,5.5,6,5.5,6,6.5,
5.5,6,5.5,6.5,5,6,5.5,6,5,6.5,5.5,6,5,5.5,6.5,5,6,5.5,5,6,5.5,6.5,5,6,5.5,
6,5.5,6.5,5,5.5,6,5,6.5,5.5,5,6,5.5,5,6,5.5,6.5,5,5.5,6,5,5.5,6,5,6.5,5.5,
5,6,5.5,6.5,5,5.5,6,5,5.5,6.5,5,6,5.5,5,6,5.5,6.5,5,5.5,6,5,5.5,6,5,6];
const p4MnlSd = [
0,6,5.5,6,5,5.5,6,5,6.5,5.5,5,6,5.5,5,6,5.5,6.5,5,5.5,6,5,5.5,6,5,6.5,
5.5,5,6,5.5,6.5,5,5.5,6,5,5.5,6,5,6.5,5.5,5,6,5.5,5,6,5,5.5,6.5,5,6,5.5,
5,6,5.5,6.5,5,5.5,6,5,5.5,6,5,6.5,5.5,5,6,5.5,5,6,5.5,6.5,5,5.5,6,5,5.5,
6,5,5.5,6,5,6.5,5.5,5,6,5.5,5,6,5,6.5,5.5,5,6,5.5,5,6,5.5,6.5,5,5.5,6,
5.5,5,6,5.5,6.5,5,5.5,6,5,5.5,6,5,6.5,5.5,5,6,5.5,5,6,5,5.5,6.5,5,6,5.5,
5,6,5.5,5,6.5,5.5,5,6,5.5,5,6,5,6.5,5.5,5,6,5.5,5,6,5.5,5,6.5,5,5.5,6,
6,5.5,5,6,5,6.5,5.5,5,6,5.5,5,6,5.5,6.5,5,5.5,6,5,5.5,6,5,6.5,5.5,5,6,
5.5,5,6,5.5,6.5,5,5.5,6,5,5.5,6,5,6.5,5.5,5,6,5.5,5,6,5.5,5,6,6.5,5,5.5];

// drawing order: lower number is drawn on top
const zOrder = [2, 5, 4, 1, 6, 3];

const panels = [
  { left: 23, top: 4, w: 264, h: 140, padR: 3, xMin: -4.95, xMax: 103.95, yMax: 12.8, xTicks: xTicksA, yTicks: yTicksA,
    means: [p1Opt, p1Ucb, p1Phe, p1Mrl, p1Vtr, p1Mnl], sds: [p1OptSd, null, null, p1MrlSd, p1VtrSd, p1MnlSd] },
  { left: 373, top: 4, w: 265, h: 140, padR: 2, xMin: -4.95, xMax: 103.95, yMax: 14.75, xTicks: xTicksA, yTicks: yTicksB,
    means: [p2Opt, p2Ucb, p2Phe, p2Mrl, p2Vtr, p2Mnl], sds: [p2OptSd, null, null, p2MrlSd, p2VtrSd, p2MnlSd] },
  { left: 23, top: 209, w: 266, h: 140, padR: 3, xMin: -7.45, xMax: 156.45, yMax: 15.9, xTicks: xTicksC, yTicks: yTicksB,
    means: [p3Opt, p3Ucb, p3Phe, p3Mrl, p3Vtr, p3Mnl], sds: [p3OptSd, null, null, p3MrlSd, p3VtrSd, p3MnlSd] },
  { left: 373, top: 209, w: 262, h: 140, padR: 3, xMin: -9.95, xMax: 208.95, yMax: 23.3, xTicks: xTicksD, yTicks: yTicksD,
    means: [p4Opt, p4Ucb, p4Phe, p4Mrl, p4Vtr, p4Mnl], sds: [p4OptSd, null, null, p4MrlSd, null, p4MnlSd] }
];

const pts = arr => arr.map((y, x) => ({ x, y }));
const problems = [];

// frame (all four spines) + matplotlib-style legend box
const frameLegend = {
  id: 'frameLegend',
  afterDraw(chart) {
    const { ctx, chartArea: a } = chart;
    ctx.save();
    ctx.strokeStyle = '#000';
    ctx.lineWidth = 0.8;
    ctx.strokeRect(a.left, a.top, a.right - a.left, a.bottom - a.top);

    const bw = 224.4, bh = 23;
    const bx = (a.left + a.right) / 2 + 1.5 - bw / 2;
    const by = a.top - 3;
    ctx.beginPath();
    ctx.roundRect(bx, by, bw, bh, 2);
    ctx.fillStyle = 'rgba(255,255,255,0.8)';
    ctx.fill();
    ctx.strokeStyle = '#cccccc';
    ctx.lineWidth = 0.8;
    ctx.stroke();

    const colX = [2.4, 94.4, 165.7];
    const rowY = [5.7, 16.3];
    ctx.font = '6.8px "DejaVu Sans"';
    ctx.textBaseline = 'middle';
    names.forEach((n, i) => {
      const x = bx + colX[Math.floor(i / 2)];
      const y = by + rowY[i % 2];
      ctx.beginPath();
      ctx.moveTo(x, y);
      ctx.lineTo(x + 16.7, y);
      ctx.strokeStyle = colors[i];
      ctx.lineWidth = 1.5;
      ctx.stroke();
      ctx.fillStyle = '#222';
      ctx.fillText(n, x + 20, y);
    });
    ctx.restore();
  }
};

panels.forEach((p, pi) => {
  const cv = document.createElement('canvas');
  cv.width = p.w + 23 + p.padR;
  cv.height = p.h + 4 + 26;
  cv.style.left = (p.left - 23) + 'px';
  cv.style.top = (p.top - 4) + 'px';
  document.body.appendChild(cv);

  const ds = [];
  p.means.forEach((m, k) => {
    const sd = p.sds[k];
    if (!sd) return;
    if (sd.length !== m.length) problems.push('panel ' + (pi + 1) + ' sd ' + k + ': ' + sd.length + ' vs ' + m.length);
    const lo = ds.length;
    ds.push({ data: pts(m.map((v, i) => v - sd[i])), borderWidth: 0, pointRadius: 0, fill: false, order: 100 });
    ds.push({ data: pts(m.map((v, i) => v + sd[i])), borderWidth: 0, pointRadius: 0, backgroundColor: bands[k], fill: { target: lo }, order: 100 });
  });
  p.means.forEach((m, k) => {
    if (m.length !== p.means[0].length) problems.push('panel ' + (pi + 1) + ' mean ' + k + ': ' + m.length);
    ds.push({ label: names[k], data: pts(m), borderColor: colors[k], borderWidth: 1.4, pointRadius: 0,
              fill: false, order: zOrder[k], borderJoinStyle: 'round' });
  });

  const tickFont = { family: 'DejaVu Sans', size: 6.6 };
  new Chart(cv, {
    type: 'line',
    data: { datasets: ds },
    plugins: [frameLegend],
    options: {
      responsive: false,
      animation: false,
      devicePixelRatio: 1,
      parsing: false,
      layout: { padding: { top: 4, right: p.padR, left: 0, bottom: 0 } },
      plugins: {
        legend: { display: false },
        tooltip: { enabled: false },
        filler: { propagate: false, drawTime: 'beforeDatasetsDraw' }
      },
      elements: { line: { tension: 0 } },
      scales: {
        x: {
          type: 'linear', min: p.xMin, max: p.xMax,
          afterBuildTicks: s => { s.ticks = p.xTicks.map(v => ({ value: v })); },
          afterFit: s => { s.height = 26; },
          grid: { drawOnChartArea: false, drawTicks: true, tickLength: 3.5, color: '#000', lineWidth: 0.8 },
          border: { display: true, color: '#000', width: 0.8 },
          ticks: { font: tickFont, color: '#222', padding: 1, autoSkip: false, maxRotation: 0 },
          title: { display: true, text: 'The Number of Episodes', color: '#222',
                   font: { family: 'DejaVu Sans', size: 7 }, padding: { top: 3.5, bottom: 3.5 } }
        },
        y: {
          type: 'linear', min: 0, max: p.yMax,
          afterBuildTicks: s => { s.ticks = p.yTicks.map(v => ({ value: v })); },
          afterFit: s => { s.width = 23; },
          grid: { drawOnChartArea: false, drawTicks: true, tickLength: 3.5, color: '#000', lineWidth: 0.8 },
          border: { display: true, color: '#000', width: 0.8 },
          ticks: { font: tickFont, color: '#222', padding: 0.5, autoSkip: false },
          title: { display: true, text: 'Episodic Returns', color: '#222',
                   font: { family: 'DejaVu Sans', size: 7 }, padding: 0.8 }
        }
      }
    }
  });
});

if (problems.length) setTimeout(() => { throw new Error('length mismatch: ' + problems.join('; ')); }, 0);
</script>
</body>
</html>
